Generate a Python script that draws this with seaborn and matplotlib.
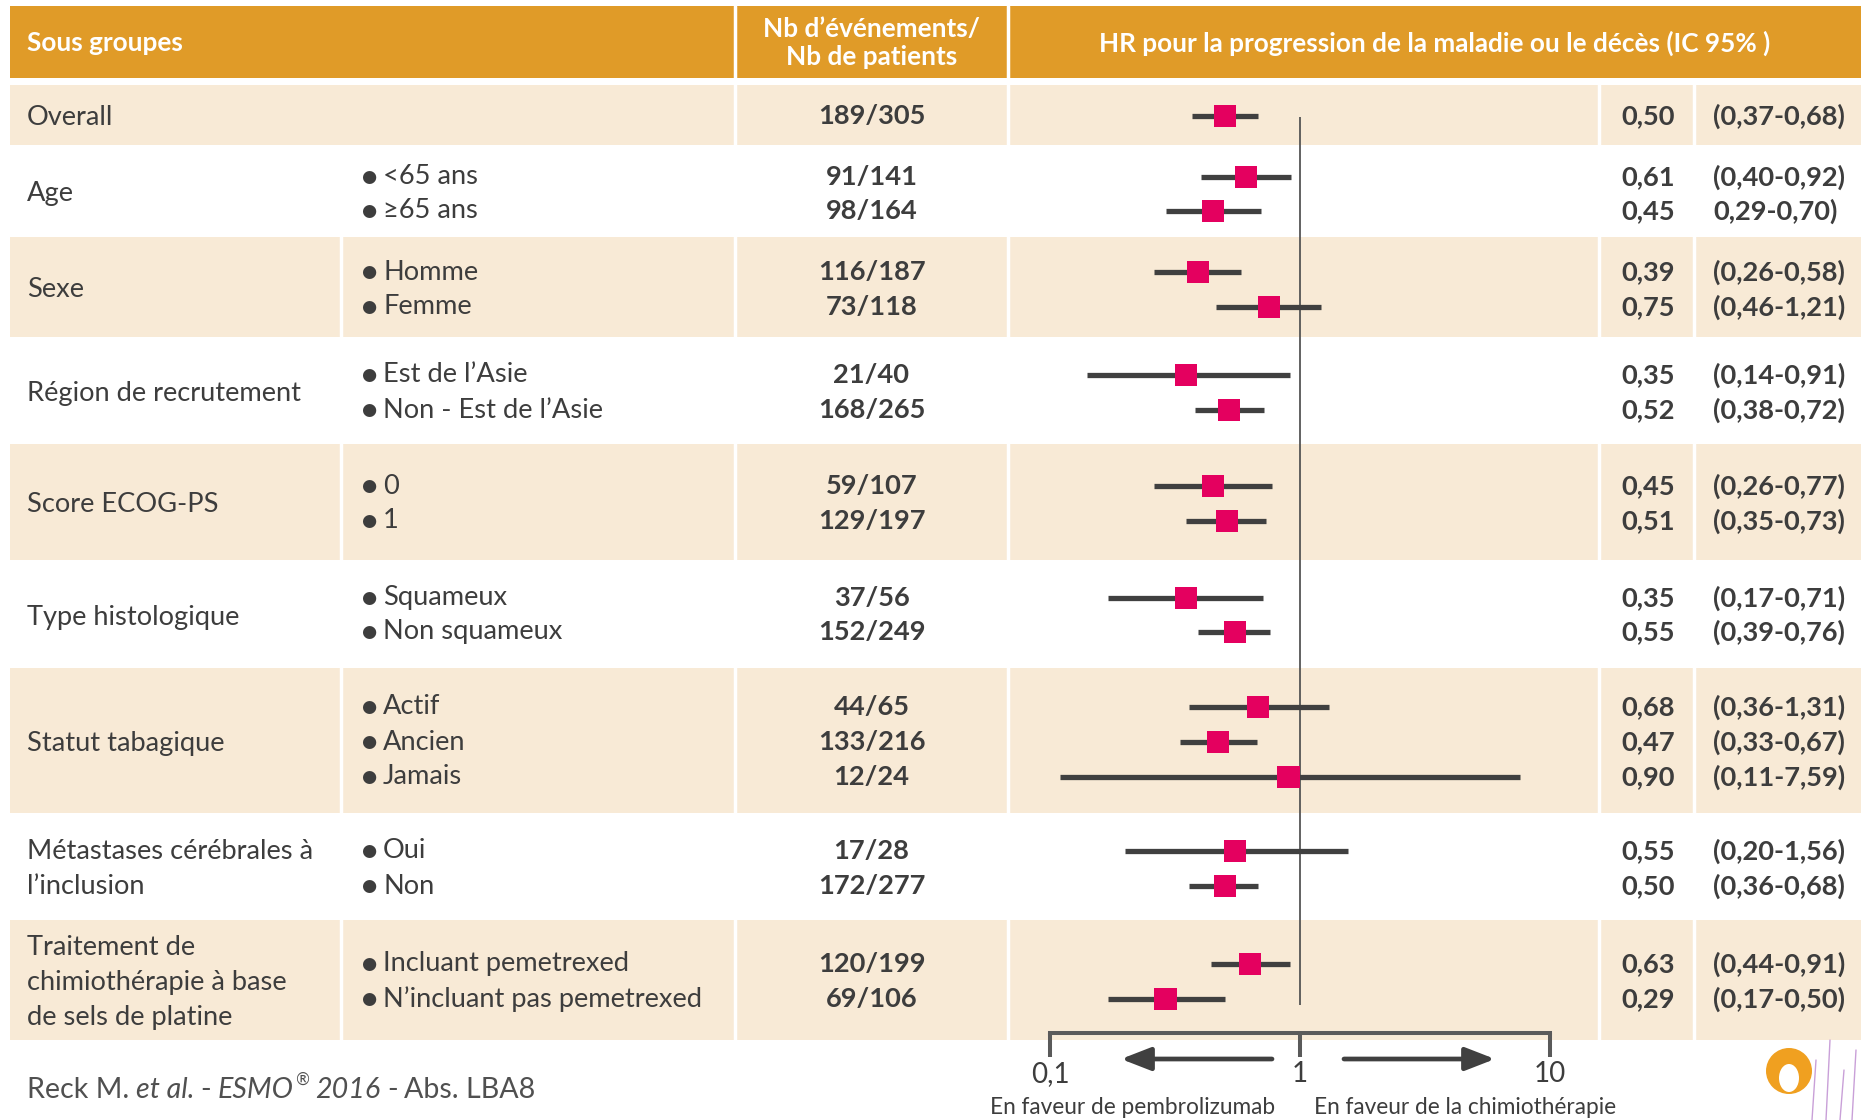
import matplotlib
matplotlib.use("Agg")
import matplotlib.pyplot as plt
from matplotlib.patches import Rectangle, Ellipse
from matplotlib.ticker import NullLocator
import seaborn as sns
import pandas as pd
import numpy as np

# ---------------- DATA ----------------
groups = ["Overall", "Age", "Sexe", "Région de recrutement", "Score ECOG-PS",
          "Type histologique", "Statut tabagique",
          "Métastases cérébrales à\nl’inclusion",
          "Traitement de\nchimiothérapie à base\nde sels de platine"]
group_sizes = [1, 2, 2, 2, 2, 2, 3, 2, 2]
subgroups = ["", "<65 ans", "≥65 ans", "Homme", "Femme", "Est de l’Asie",
             "Non - Est de l’Asie", "0", "1", "Squameux", "Non squameux",
             "Actif", "Ancien", "Jamais", "Oui", "Non",
             "Incluant pemetrexed", "N’incluant pas pemetrexed"]
events = ["189/305", "91/141", "98/164", "116/187", "73/118", "21/40", "168/265",
          "59/107", "129/197", "37/56", "152/249", "44/65", "133/216", "12/24",
          "17/28", "172/277", "120/199", "69/106"]
hr = [0.50, 0.61, 0.45, 0.39, 0.75, 0.35, 0.52, 0.45, 0.51, 0.35, 0.55,
      0.68, 0.47, 0.90, 0.55, 0.50, 0.63, 0.29]
ci_low = [0.37, 0.40, 0.29, 0.26, 0.46, 0.14, 0.38, 0.26, 0.35, 0.17, 0.39,
          0.36, 0.33, 0.11, 0.20, 0.36, 0.44, 0.17]
ci_high = [0.68, 0.92, 0.70, 0.58, 1.21, 0.91, 0.72, 0.77, 0.73, 0.71, 0.76,
           1.31, 0.67, 7.59, 1.56, 0.68, 0.91, 0.50]
hr_labels = ["0,50", "0,61", "0,45", "0,39", "0,75", "0,35", "0,52", "0,45", "0,51",
             "0,35", "0,55", "0,68", "0,47", "0,90", "0,55", "0,50", "0,63", "0,29"]
ci_labels = ["(0,37-0,68)", "(0,40-0,92)", "0,29-0,70)", "(0,26-0,58)", "(0,46-1,21)",
             "(0,14-0,91)", "(0,38-0,72)", "(0,26-0,77)", "(0,35-0,73)", "(0,17-0,71)",
             "(0,39-0,76)", "(0,36-1,31)", "(0,33-0,67)", "(0,11-7,59)", "(0,20-1,56)",
             "(0,36-0,68)", "(0,44-0,91)", "(0,17-0,50)"]
axis_ticks = [0.1, 1, 10]
axis_ticklabels = ["0,1", "1", "10"]
header_labels = ["Sous groupes", "Nb d’événements/\nNb de patients",
                 "HR pour la progression de la maladie ou le décès (IC 95% )"]
favour_labels = ["En faveur de pembrolizumab", "En faveur de la chimiothérapie"]
reference_segments = [("Reck M.", "normal"), ("et al.", "italic"), ("-", "normal"),
                      ("ESMO", "italic"), ("®", "sup"), ("2016", "italic"),
                      ("-", "normal"), ("Abs. LBA8", "normal")]

# ---------------- LAYOUT (pixels) ----------------
W, H = 1861, 1120
band_top = [85, 148, 237, 341, 444, 564, 668, 817, 920]
band_bot = [145, 234, 337, 440, 560, 665, 813, 916, 1040]
row_y = [116, 177, 211, 272, 307, 375, 410, 486, 521, 598, 632, 707, 742, 777,
         851, 886, 964, 999]
X_LEFT, X_SEP1, X_SEP2, X_SEP3, X_SEP4, X_SEP5 = 10, 341, 735, 1008, 1599, 1694
PX_01, PX_10 = 1050, 1550  # pixel of HR 0.1 and HR 10

ORANGE = "#E09B28"
BEIGE = "#F8EAD6"
TXT = "#3D3D3D"
MAGENTA = "#E4005F"
LINEC = "#404040"
FS = 19.6

sns.set_theme(style="white")
plt.rcParams["font.family"] = ["Lato", "DejaVu Sans"]

fig = plt.figure(figsize=(W / 100, H / 100), dpi=100)
ax = fig.add_axes([0, 0, 1, 1])
ax.set_xlim(0, W)
ax.set_ylim(H, 0)
ax.axis("off")

# header
ax.add_patch(Rectangle((X_LEFT, 6), W - X_LEFT, 72, color=ORANGE, lw=0))
for xs in (X_SEP2, X_SEP3):
    ax.plot([xs, xs], [6, 78], color="white", lw=2.5)
hdr = dict(color="white", fontsize=18.8, fontweight="bold", va="center")
ax.text(27, 43, header_labels[0], ha="left", **hdr)
ax.text((X_SEP2 + X_SEP3) / 2, 43, header_labels[1], ha="center", linespacing=1.2, **hdr)
ax.text((X_SEP3 + W) / 2, 43, header_labels[2], ha="center", **hdr)

# bands
for gi in range(len(groups)):
    t, b = band_top[gi], band_bot[gi]
    if gi % 2 == 0:
        ax.add_patch(Rectangle((X_LEFT, t), W - X_LEFT, b - t, color=BEIGE, lw=0))
        seps = [X_SEP2, X_SEP3, X_SEP4, X_SEP5] + ([X_SEP1] if gi > 0 else [])
        for xs in seps:
            ax.plot([xs, xs], [t, b], color="white", lw=2.5)
    ax.text(27, (t + b) / 2 + 2.5, groups[gi], ha="left", va="center", fontsize=FS,
            color=TXT, linespacing=1.5)

# row texts
for i in range(len(subgroups)):
    y = row_y[i]
    if subgroups[i]:
        ax.text(369, y, "●", ha="center", va="center", fontsize=12.5,
                color=TXT, family="DejaVu Sans")
        ax.text(383, y, subgroups[i], ha="left", va="center", fontsize=FS, color=TXT)
    ax.text((X_SEP2 + X_SEP3) / 2, y, events[i], ha="center", va="center",
            fontsize=FS, fontweight="bold", color=TXT)
    ax.text(1675, y, hr_labels[i], ha="right", va="center", fontsize=FS,
            fontweight="bold", color=TXT)
    ax.text(1713, y, ci_labels[i], ha="left", va="center", fontsize=FS,
            fontweight="bold", color=TXT)

# arrows + favour labels
arrow_kw = dict(arrowstyle="-|>,head_length=0.9,head_width=0.35", lw=3.4,
                color=LINEC, mutation_scale=20, shrinkA=0, shrinkB=0)
ax.annotate("", xy=(1121, 1059), xytext=(1272, 1059), arrowprops=arrow_kw)
ax.annotate("", xy=(1495, 1059), xytext=(1344, 1059), arrowprops=arrow_kw)
ax.text(1133, 1108, favour_labels[0], ha="center", va="center", fontsize=16.3, color=TXT)
ax.text(1465, 1108, favour_labels[1], ha="center", va="center", fontsize=16.3, color=TXT)

# footer reference with mixed styles
fig.canvas.draw()
renderer = fig.canvas.get_renderer()
xcur = 27
space = 6.5
inv = ax.transData.inverted()
for txt, style in reference_segments:
    if style == "sup":
        t = ax.text(xcur - space + 1, 1080, txt, ha="left", va="center", fontsize=12,
                    color="#505050", style="italic")
    else:
        t = ax.text(xcur, 1090, txt, ha="left", va="center", fontsize=20.6,
                    color="#505050", style=style)
    bb = t.get_window_extent(renderer)
    xcur = inv.transform((bb.x1, bb.y0))[0] + space

# logo approximation
ax.add_patch(Ellipse((1789, 1071), 46, 46, color="#F0A020", lw=0))
ax.add_patch(Ellipse((1789, 1078), 20, 28, color="white", lw=0))
for dx, h in [(1812, 60), (1826, 80), (1840, 50), (1852, 70)]:
    ax.plot([dx, dx + 4], [H, H - h], color="#C9A0D8", lw=1)

# ---------------- forest plot ----------------
dec = (PX_10 - PX_01) / 2.0
xmin = 10 ** (-1 - (PX_01 - X_SEP3) / dec)
xmax = 10 ** (1 + (X_SEP4 - PX_10) / dec)
fx = fig.add_axes([X_SEP3 / W, 0, (X_SEP4 - X_SEP3) / W, 1])
fx.patch.set_alpha(0)
fx.set_xscale("log")

df = pd.DataFrame({"hr": hr, "lo": ci_low, "hi": ci_high, "y": row_y})
fx.vlines(1, 117, 1005, color="#555555", lw=1.3, zorder=1)
fx.hlines(df["y"], df["lo"], df["hi"], color=LINEC, lw=3.8, zorder=2)
sns.scatterplot(data=df, x="hr", y="y", marker="s", s=16 ** 2, color=MAGENTA,
                edgecolor="none", linewidth=0, ax=fx, zorder=3, legend=False)
fx.set_xlim(xmin, xmax)
fx.set_ylim(H, 0)
fx.set_xlabel("")
fx.set_ylabel("")
fx.set_yticks([])
for s in ("top", "left", "right"):
    fx.spines[s].set_visible(False)
sp = fx.spines["bottom"]
sp.set_position(("data", 1033))
sp.set_bounds(0.1, 10)
sp.set_linewidth(2.9)
sp.set_color("#5A5A5A")
sp.set_visible(True)
fx.set_xticks(axis_ticks)
fx.set_xticklabels(axis_ticklabels)
fx.xaxis.set_minor_locator(NullLocator())
fx.tick_params(axis="x", bottom=True, direction="out", length=17, width=2.9,
               color="#5A5A5A", labelsize=20, labelcolor=TXT, pad=3)

fig.savefig("out.png", dpi=100)
